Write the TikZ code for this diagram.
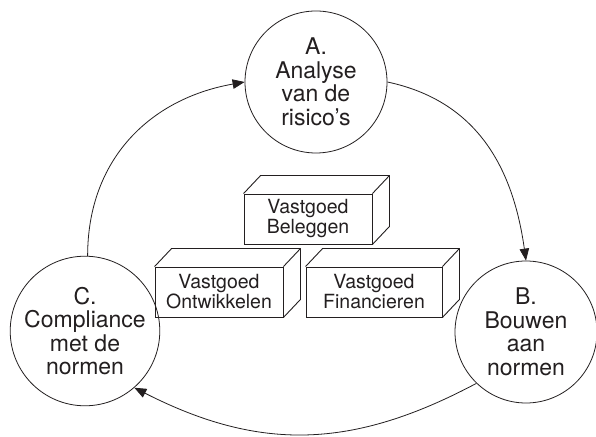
\documentclass[tikz,border=0pt]{standalone}
\usepackage{fontspec}
\setmainfont{TeX Gyre Heros}
\usepackage{xcolor}
\usepackage{tikz}
\usetikzlibrary{calc,arrows.meta}
\definecolor{ink}{HTML}{231F20}
\definecolor{paper}{HTML}{FFFFFF}
\tikzset{
  phase/.style={draw=ink, circle, line width=0.8pt, minimum size=142pt, inner sep=0pt, align=center, text=ink, font=\fontsize{23}{23.5}\selectfont},
  block/.style={draw=ink, line width=0.9pt, minimum height=50pt, inner sep=0pt, align=center, text=ink, font=\fontsize{19.5}{20}\selectfont},
  face/.style={draw=ink, line width=0.9pt, line join=round},
  flow/.style={draw=ink, line width=0.8pt, -{Triangle[length=12pt,width=9.5pt]}, looseness=1.05},
}

\begin{document}
\begin{tikzpicture}[x=1pt,y=1pt]
  \useasboundingbox[fill=paper] (0,0) rectangle (596,436);

  \node[phase] (A) at (316,354) {A.\\Analyse\\van de\\risico’s};
  \node[phase] (B) at (526,104) {B.\\Bouwen\\aan\\normen};
  \node[phase] (C) at (85,105) {C.\\Compliance\\met de\\normen};

  \node[block, minimum width=128pt] (beleggen) at (308,217) {Vastgoed\\Beleggen};
  \node[block, minimum width=128pt] (ontwikkelen) at (219,144) {Vastgoed\\Ontwikkelen};
  \node[block, minimum width=136pt] (financieren) at (374,144) {Vastgoed\\Financieren};

  \foreach \b in {beleggen,ontwikkelen,financieren}{
    \draw[face] (\b.north west) -- ++(17,18) -- ($(\b.north east)+(17,18)$)
      -- ($(\b.south east)+(17,18)$) -- (\b.south east);
    \draw[face] (\b.north east) -- ++(17,18);
  }

  \draw[flow] (C.88) to[out=90,in=190] (A.west);
  \draw[flow] (A.east) to[out=-12,in=98] (B.north);
  \draw[flow] (B.226) to[out=208,in=-27] (C.311);
\end{tikzpicture}
\end{document}
